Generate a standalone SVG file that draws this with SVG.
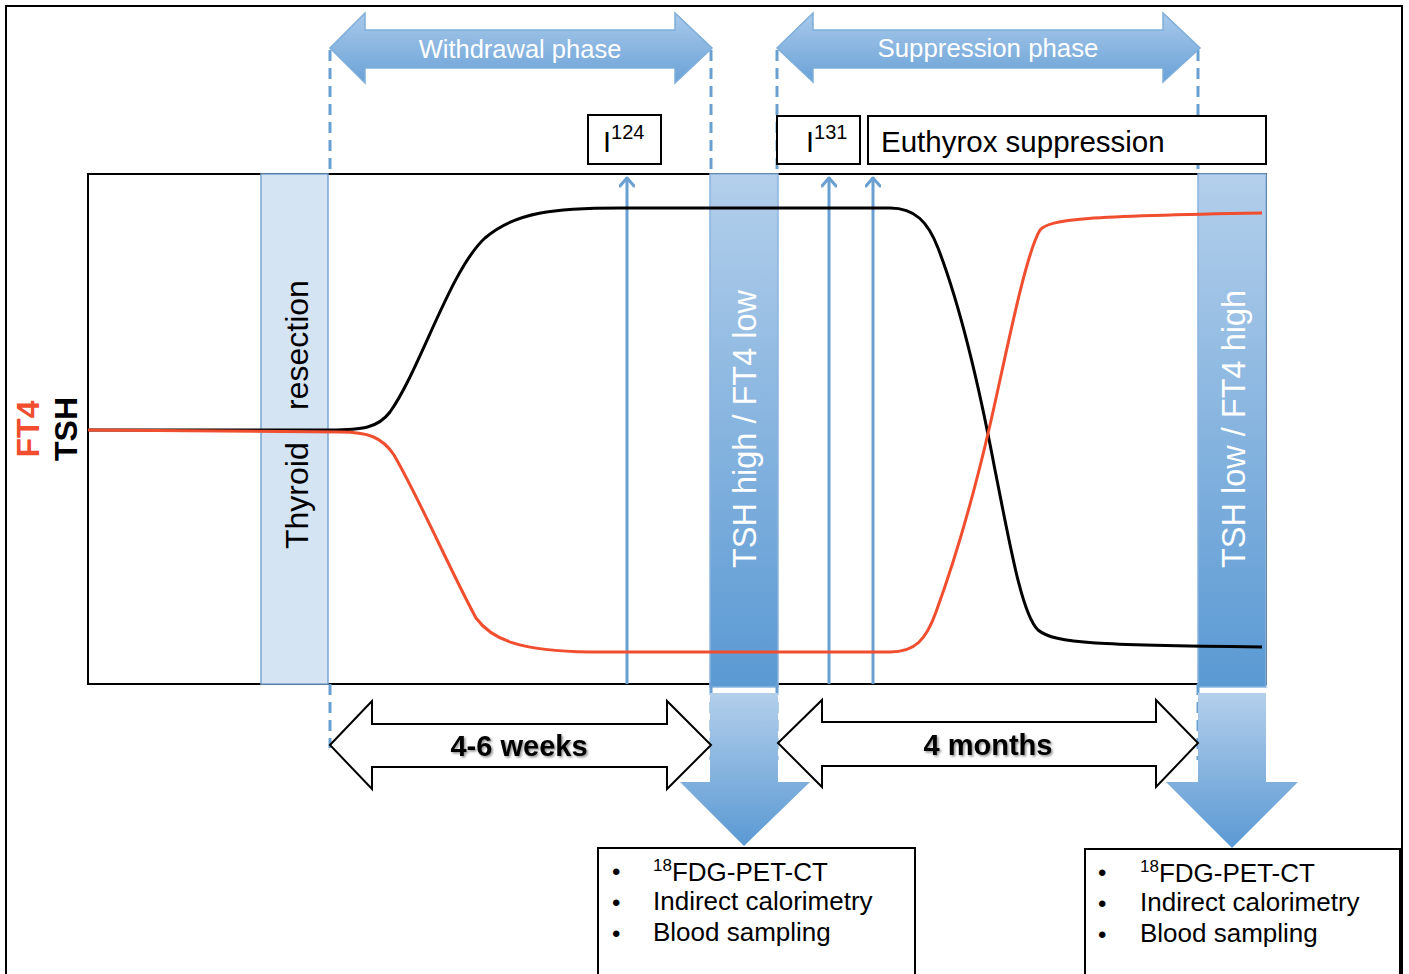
<svg xmlns="http://www.w3.org/2000/svg" width="1409" height="974" viewBox="0 0 1409 974">
<defs>
<linearGradient id="gBar" x1="0" y1="0" x2="0" y2="1"><stop offset="0" stop-color="#b3cfeb"/><stop offset="1" stop-color="#5a99d3"/></linearGradient>
<linearGradient id="gDown" x1="0" y1="0" x2="0" y2="1"><stop offset="0" stop-color="#b3cfeb"/><stop offset="1" stop-color="#5a99d3"/></linearGradient>
<linearGradient id="gPhase" x1="0" y1="0" x2="0" y2="1"><stop offset="0" stop-color="#a9c9ea"/><stop offset="1" stop-color="#6aa2d7"/></linearGradient>
<marker id="ah" viewBox="0 0 12 16" refX="11" refY="8" markerWidth="12" markerHeight="16" markerUnits="userSpaceOnUse" orient="auto"><path d="M2,1 L10,8 L2,15" fill="none" stroke="#6a9fd1" stroke-width="3" stroke-linecap="round" stroke-linejoin="round"/></marker>
<filter id="sh" x="-10%" y="-30%" width="120%" height="160%"><feDropShadow dx="1.5" dy="1.5" stdDeviation="1.2" flood-color="#000" flood-opacity="0.45"/></filter>
</defs>
<style>
.frame{fill:#fff;stroke:#000;stroke-width:2}
.box{fill:#fff;stroke:#000;stroke-width:2}
.dash{stroke:#6a9fd1;stroke-width:3;stroke-dasharray:11 7;fill:none}
.bar{fill:url(#gBar);stroke:#8bb4df;stroke-width:1.5}
.down{fill:url(#gDown);stroke:none}
.phase{fill:url(#gPhase);stroke:#7eaedb;stroke-width:1.5}
.dbl{fill:#fff;stroke:#000;stroke-width:2}
.vline{stroke:#6a9fd1;stroke-width:3;fill:none}
.t{font-family:"Liberation Sans",Arial,sans-serif}
.wt{font-family:"Liberation Sans",Arial,sans-serif;fill:#fff}
.bt{font-family:"Liberation Sans",Arial,sans-serif;font-weight:bold}
</style>
<rect x="0" y="0" width="1409" height="974" fill="#fff"/>
<rect class="frame" x="6" y="6" width="1396" height="990"/>

<g id="chart">
<rect x="88" y="174" width="1178" height="510" fill="#fff" stroke="#000" stroke-width="2"/>
</g>

<g id="thyroid-resection">
<rect x="261" y="174" width="67" height="510" fill="#d5e4f3" stroke="#7aa6d4" stroke-width="1.5"/>
<text class="t" font-size="32" fill="#000" transform="translate(308,429) rotate(-90)"><tspan x="-120">Thyroid</tspan><tspan x="19">resection</tspan></text>
</g>

<g id="axis-labels">
<text class="bt" font-size="32" fill="#f04e2f" transform="translate(39,429) rotate(-90)" text-anchor="middle">FT4</text>
<text class="bt" font-size="32" fill="#000" transform="translate(77,429) rotate(-90)" text-anchor="middle">TSH</text>
</g>

<g id="bar-withdrawal">
<rect class="bar" x="710" y="174" width="68" height="513"/>
<text class="wt" font-size="32.5" transform="translate(756,429) rotate(-90)" text-anchor="middle">TSH high / FT4 low</text>
</g>

<g id="bar-suppression">
<rect class="bar" x="1198" y="174" width="68" height="513"/>
<text class="wt" font-size="32.5" transform="translate(1245,429) rotate(-90)" text-anchor="middle">TSH low / FT4 high</text>
</g>

<g id="connectors">
<path class="dash" d="M330,50 V174 M330,684 V748"/>
<path class="dash" d="M711,50 V174 M711,684 V760"/>
<path class="dash" d="M777,50 V174 M777,684 V760"/>
<path class="dash" d="M1198,50 V174 M1198,684 V760"/>
<line class="vline" x1="627" y1="684" x2="627" y2="177" marker-end="url(#ah)"/>
<line class="vline" x1="829" y1="684" x2="829" y2="177" marker-end="url(#ah)"/>
<line class="vline" x1="873" y1="684" x2="873" y2="177" marker-end="url(#ah)"/>
</g>

<g id="curves">
<path d="M88,430 L330,430 C362,430 378,428 390,412 C420,370 450,270 485,238 C515,212 555,208 620,208 L890,208 C915,208 928,222 938,248 C960,305 978,380 995,470 C1010,545 1022,615 1038,630 C1055,644 1100,645 1262,647" fill="none" stroke="#000" stroke-width="3"/>
<path d="M88,430 L340,432 C368,432 382,437 394,455 C420,500 450,570 476,618 C492,640 520,651 590,652 L890,652 C915,652 926,640 936,612 C955,560 975,490 990,425 C1005,360 1025,255 1040,230 C1050,219 1085,216 1262,213" fill="none" stroke="#f04e2f" stroke-width="3"/>
</g>

<g id="withdrawal-phase">
<polygon class="phase" points="330,48 365,13 365,30 675,30 675,13 712,48 675,83 675,68 365,68 365,83"/>
<text class="wt" font-size="25.5" x="520" y="58" text-anchor="middle">Withdrawal phase</text>
</g>

<g id="suppression-phase">
<polygon class="phase" points="777,48 813,13 813,30 1163,30 1163,13 1200,48 1163,82 1163,68 813,68 813,82"/>
<text class="wt" font-size="25.8" x="988" y="57" text-anchor="middle">Suppression phase</text>
</g>

<g id="i124">
<rect class="box" x="588" y="115" width="73" height="49"/>
<text class="t" font-size="29" x="603" y="152">I<tspan font-size="20" dy="-13">124</tspan></text>
</g>

<g id="i131">
<rect class="box" x="777" y="116" width="83" height="48"/>
<text class="t" font-size="29" x="806" y="152">I<tspan font-size="20" dy="-13">131</tspan></text>
</g>

<g id="euthyrox">
<rect class="box" x="868" y="116" width="398" height="48"/>
<text class="t" font-size="29.5" x="881" y="152">Euthyrox suppression</text>
</g>

<g id="down-arrow-1">
<polygon class="down" points="710,693 778,693 778,782 810,782 744,846 680,782 710,782"/>
</g>
<g id="down-arrow-2">
<polygon class="down" points="1198,693 1266,693 1266,782 1298,782 1232,848 1166,782 1198,782"/>
</g>

<g id="weeks">
<polygon class="dbl" points="330,745 372,701 372,724 667,724 667,701 711,745 667,789 667,767 372,767 372,789"/>
<text class="bt" font-size="29" x="519" y="756" text-anchor="middle" filter="url(#sh)">4-6 weeks</text>
</g>

<g id="months">
<polygon class="dbl" points="778,743 822,700 822,722 1156,722 1156,700 1198,743 1156,787 1156,766 822,766 822,787"/>
<text class="bt" font-size="29" x="988" y="755" text-anchor="middle" filter="url(#sh)">4 months</text>
</g>

<g id="measurements-1">
<rect class="box" x="598" y="848" width="317" height="140"/>
<text class="t" font-size="24" x="612" y="880">•</text>
<text class="t" font-size="24" x="612" y="911">•</text>
<text class="t" font-size="24" x="612" y="942">•</text>
<text class="t" font-size="26" x="653" y="881"><tspan font-size="17" dy="-10">18</tspan><tspan dy="10">FDG-PET-CT</tspan></text>
<text class="t" font-size="26" x="653" y="910">Indirect calorimetry</text>
<text class="t" font-size="26" x="653" y="941">Blood sampling</text>
</g>

<g id="measurements-2">
<rect class="box" x="1085" y="849" width="315" height="140"/>
<text class="t" font-size="24" x="1098" y="881">•</text>
<text class="t" font-size="24" x="1098" y="912">•</text>
<text class="t" font-size="24" x="1098" y="943">•</text>
<text class="t" font-size="26" x="1140" y="882"><tspan font-size="17" dy="-10">18</tspan><tspan dy="10">FDG-PET-CT</tspan></text>
<text class="t" font-size="26" x="1140" y="911">Indirect calorimetry</text>
<text class="t" font-size="26" x="1140" y="942">Blood sampling</text>
</g>
</svg>
